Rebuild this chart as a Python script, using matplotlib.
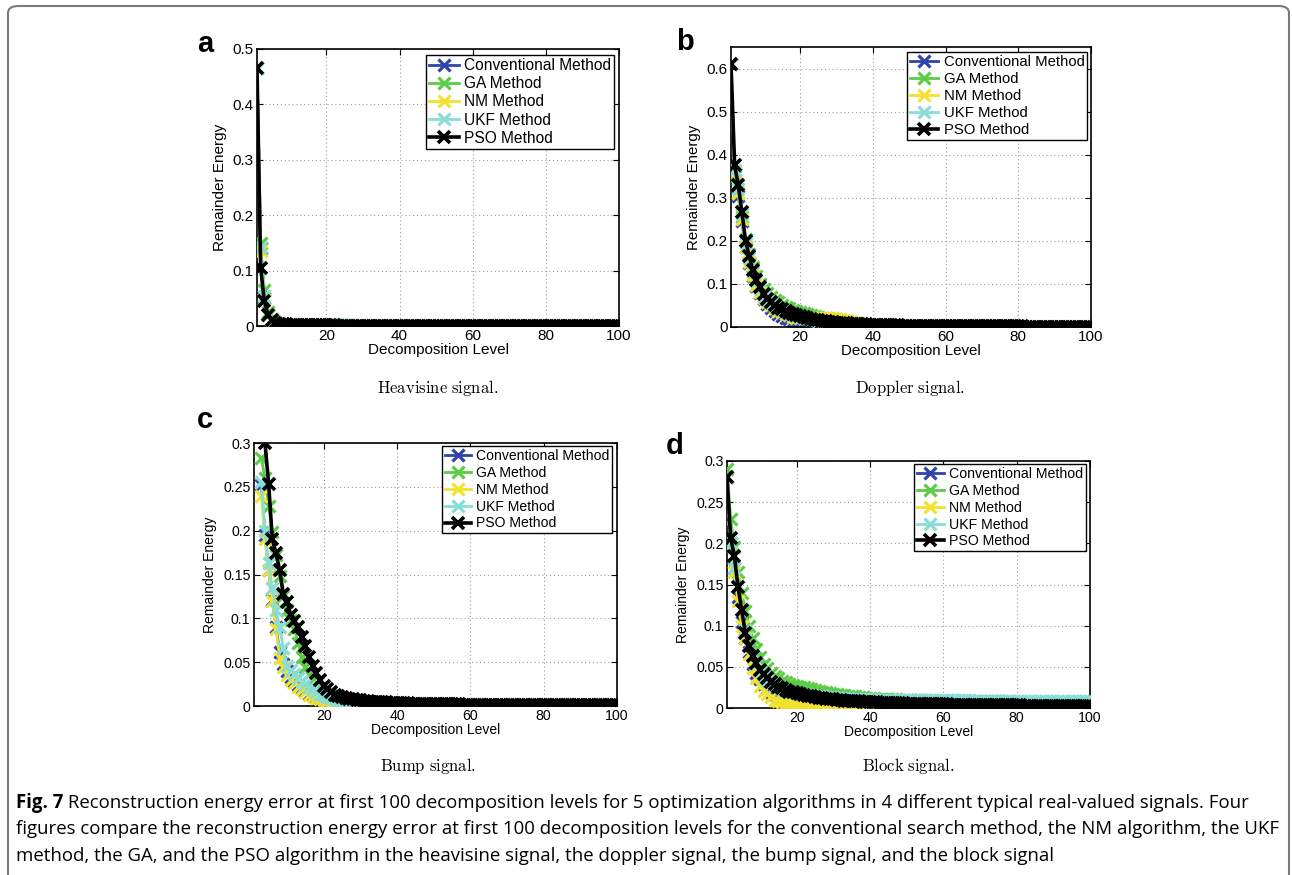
import numpy as np
import matplotlib
matplotlib.use('Agg')
import matplotlib.pyplot as plt
from matplotlib.patches import FancyBboxPatch
from matplotlib import font_manager
from matplotlib.ticker import FormatStrFormatter

NA = np.nan

# ---------------- data ----------------
levels = list(range(1, 101))
methods = ["Conventional Method", "GA Method", "NM Method", "UKF Method", "PSO Method"]
colors = ["#2f43a8", "#5ccb47", "#f2e12e", "#88ddd6", "#000000"]

# (a) Heavisine
conv_a = [
0.465, 0.140, 0.050, 0.020, 0.010, 0.006, 0.004, 0.003, 0.0025, 0.0021,
0.0019, 0.0017, 0.0016, 0.0015, 0.0014, 0.0013, 0.0012, 0.0011, 0.0011, 0.0010,
0.0010, 0.0009, 0.0009, 0.0009, 0.0008, 0.0008, 0.0008, 0.0008, 0.0007, 0.0007,
0.0007, 0.0007, 0.0006, 0.0006, 0.0006, 0.0006, 0.0006, 0.0005, 0.0005, 0.0005,
0.0005, 0.0005, 0.0005, 0.0005, 0.0004, 0.0004, 0.0004, 0.0004, 0.0004, 0.0004,
0.0004, 0.0004, 0.0004, 0.0004, 0.0004, 0.0003, 0.0003, 0.0003, 0.0003, 0.0003,
0.0003, 0.0003, 0.0003, 0.0003, 0.0003, 0.0003, 0.0003, 0.0003, 0.0003, 0.0003,
0.0003, 0.0003, 0.0003, 0.0003, 0.0003, 0.0002, 0.0002, 0.0002, 0.0002, 0.0002,
0.0002, 0.0002, 0.0002, 0.0002, 0.0002, 0.0002, 0.0002, 0.0002, 0.0002, 0.0002,
0.0002, 0.0002, 0.0002, 0.0002, 0.0002, 0.0002, 0.0002, 0.0002, 0.0002, 0.0002]
ga_a = [
0.465, 0.150, 0.065, 0.026, 0.013, 0.008, 0.005, 0.004, 0.003, 0.0026,
0.0023, 0.0021, 0.0019, 0.0018, 0.0017, 0.0016, 0.0015, 0.0014, 0.0013, 0.0013,
0.0012, 0.0012, 0.0011, 0.0011, 0.0010, 0.0010, 0.0010, 0.0009, 0.0009, 0.0009,
0.0009, 0.0008, 0.0008, 0.0008, 0.0008, 0.0008, 0.0007, 0.0007, 0.0007, 0.0007,
0.0007, 0.0007, 0.0006, 0.0006, 0.0006, 0.0006, 0.0006, 0.0006, 0.0006, 0.0006,
0.0005, 0.0005, 0.0005, 0.0005, 0.0005, 0.0005, 0.0005, 0.0005, 0.0005, 0.0005,
0.0005, 0.0005, 0.0004, 0.0004, 0.0004, 0.0004, 0.0004, 0.0004, 0.0004, 0.0004,
0.0004, 0.0004, 0.0004, 0.0004, 0.0004, 0.0004, 0.0004, 0.0004, 0.0004, 0.0004,
0.0003, 0.0003, 0.0003, 0.0003, 0.0003, 0.0003, 0.0003, 0.0003, 0.0003, 0.0003,
0.0003, 0.0003, 0.0003, 0.0003, 0.0003, 0.0003, 0.0003, 0.0003, 0.0003, 0.0003]
nm_a = [
0.465, 0.135, 0.048, 0.019, 0.010, 0.006, 0.004, 0.003, 0.0024, 0.0020,
0.0018, 0.0016, 0.0015, 0.0014, 0.0013, 0.0012, 0.0011, 0.0011, 0.0010, 0.0010,
0.0009, 0.0009, 0.0009, 0.0008, 0.0008, 0.0008, 0.0007, 0.0007, 0.0007, 0.0007,
0.0006, 0.0006, 0.0006, 0.0006, 0.0006, 0.0005, 0.0005, 0.0005, 0.0005, 0.0005,
0.0005, 0.0004, 0.0004, 0.0004, 0.0004, 0.0004, 0.0004, 0.0004, 0.0004, 0.0004,
0.0003, 0.0003, 0.0003, 0.0003, 0.0003, 0.0003, 0.0003, 0.0003, 0.0003, 0.0003,
0.0003, 0.0003, 0.0003, 0.0003, 0.0003, 0.0003, 0.0003, 0.0002, 0.0002, 0.0002,
0.0002, 0.0002, 0.0002, 0.0002, 0.0002, 0.0002, 0.0002, 0.0002, 0.0002, 0.0002,
0.0002, 0.0002, 0.0002, 0.0002, 0.0002, 0.0002, 0.0002, 0.0002, 0.0002, 0.0002,
0.0002, 0.0002, 0.0002, 0.0002, 0.0002, 0.0002, 0.0002, 0.0002, 0.0002, 0.0002]
ukf_a = [
0.465, 0.142, 0.055, 0.022, 0.011, 0.007, 0.0045, 0.0035, 0.0028, 0.0022,
0.0020, 0.0019, 0.0018, 0.0017, 0.0016, 0.0015, 0.0014, 0.0013, 0.0012, 0.0012,
0.0011, 0.0011, 0.0010, 0.0010, 0.0010, 0.0009, 0.0009, 0.0009, 0.0008, 0.0008,
0.0008, 0.0008, 0.0008, 0.0007, 0.0007, 0.0007, 0.0007, 0.0007, 0.0006, 0.0006,
0.0006, 0.0006, 0.0006, 0.0006, 0.0005, 0.0005, 0.0005, 0.0005, 0.0005, 0.0005,
0.0005, 0.0005, 0.0005, 0.0005, 0.0004, 0.0004, 0.0004, 0.0004, 0.0004, 0.0004,
0.0004, 0.0004, 0.0004, 0.0004, 0.0004, 0.0004, 0.0004, 0.0004, 0.0003, 0.0003,
0.0003, 0.0003, 0.0003, 0.0003, 0.0003, 0.0003, 0.0003, 0.0003, 0.0003, 0.0003,
0.0003, 0.0003, 0.0003, 0.0003, 0.0003, 0.0003, 0.0003, 0.0003, 0.0003, 0.0003,
0.0003, 0.0003, 0.0003, 0.0003, 0.0003, 0.0003, 0.0003, 0.0003, 0.0003, 0.0003]
pso_a = [
0.465, 0.105, 0.045, 0.020, 0.010, 0.006, 0.0045, 0.0035, 0.0030, 0.0025,
0.0022, 0.0020, 0.0018, 0.0016, 0.0015, 0.0014, 0.0013, 0.0012, 0.0011, 0.0010,
0.0010, 0.0010, 0.0009, 0.0009, 0.0009, 0.0008, 0.0008, 0.0008, 0.0008, 0.0007,
0.0007, 0.0007, 0.0007, 0.0007, 0.0007, 0.0006, 0.0006, 0.0006, 0.0006, 0.0006,
0.0006, 0.0006, 0.0005, 0.0005, 0.0005, 0.0005, 0.0005, 0.0005, 0.0005, 0.0005,
0.0005, 0.0004, 0.0004, 0.0004, 0.0004, 0.0004, 0.0004, 0.0004, 0.0004, 0.0004,
0.0004, 0.0004, 0.0004, 0.0004, 0.0004, 0.0004, 0.0004, 0.0004, 0.0004, 0.0004,
0.0004, 0.0004, 0.0003, 0.0003, 0.0003, 0.0003, 0.0003, 0.0003, 0.0003, 0.0003,
0.0003, 0.0003, 0.0003, 0.0003, 0.0003, 0.0003, 0.0003, 0.0003, 0.0003, 0.0003,
0.0003, 0.0003, 0.0003, 0.0003, 0.0003, 0.0003, 0.0003, 0.0003, 0.0003, 0.0003]

# (b) Doppler
conv_b = [
0.610, 0.355, 0.305, 0.245, 0.185, 0.148, 0.118, 0.095, 0.078, 0.064,
0.053, 0.044, 0.037, 0.031, 0.026, 0.022, 0.018, 0.015, 0.012, 0.010,
0.0085, 0.0070, 0.0060, 0.0050, 0.0042, 0.0036, 0.0030, 0.0026, 0.0022, 0.0019,
0.0016, 0.0014, 0.0012, 0.0010, 0.0009, 0.0008, 0.0007, 0.0006, 0.0005, 0.0005,
0.0005, 0.0004, 0.0004, 0.0004, 0.0004, 0.0004, 0.0004, 0.0004, 0.0004, 0.0004,
0.0003, 0.0003, 0.0003, 0.0003, 0.0003, 0.0003, 0.0003, 0.0003, 0.0003, 0.0003,
0.0003, 0.0003, 0.0003, 0.0003, 0.0003, 0.0003, 0.0003, 0.0003, 0.0003, 0.0003,
0.0002, 0.0002, 0.0002, 0.0002, 0.0002, 0.0002, 0.0002, 0.0002, 0.0002, 0.0002,
0.0002, 0.0002, 0.0002, 0.0002, 0.0002, 0.0002, 0.0002, 0.0002, 0.0002, 0.0002,
0.0002, 0.0002, 0.0002, 0.0002, 0.0002, 0.0002, 0.0002, 0.0002, 0.0002, 0.0002]
ga_b = [
0.610, 0.350, 0.310, 0.255, 0.205, 0.170, 0.140, 0.118, 0.100, 0.088,
0.078, 0.070, 0.063, 0.057, 0.052, 0.047, 0.043, 0.040, 0.037, 0.034,
0.032, 0.030, 0.028, 0.026, 0.024, 0.022, 0.021, 0.020, 0.019, 0.018,
0.016, 0.015, 0.013, 0.012, 0.010, 0.009, 0.008, 0.007, 0.006, 0.005,
0.0046, 0.0043, 0.0040, 0.0038, 0.0036, 0.0034, 0.0032, 0.0030, 0.0029, 0.0028,
0.0027, 0.0026, 0.0025, 0.0024, 0.0023, 0.0022, 0.0021, 0.0020, 0.0020, 0.0019,
0.0019, 0.0018, 0.0018, 0.0017, 0.0017, 0.0016, 0.0016, 0.0015, 0.0015, 0.0015,
0.0014, 0.0014, 0.0014, 0.0013, 0.0013, 0.0013, 0.0012, 0.0012, 0.0012, 0.0012,
0.0011, 0.0011, 0.0011, 0.0011, 0.0010, 0.0010, 0.0010, 0.0010, 0.0010, 0.0010,
0.0009, 0.0009, 0.0009, 0.0009, 0.0009, 0.0009, 0.0009, 0.0009, 0.0009, 0.0009]
nm_b = [
0.610, 0.360, 0.310, 0.250, 0.185, 0.150, 0.120, 0.098, 0.082, 0.068,
0.058, 0.050, 0.044, 0.038, 0.034, 0.030, 0.027, 0.024, 0.022, 0.021,
0.020, 0.020, 0.021, 0.022, 0.022, 0.022, 0.021, 0.021, 0.020, 0.019,
0.018, 0.016, 0.014, 0.012, 0.010, 0.008, 0.006, 0.005, 0.004, 0.0035,
0.0032, 0.0030, 0.0028, 0.0026, 0.0024, 0.0022, 0.0021, 0.0020, 0.0019, 0.0018,
0.0017, 0.0016, 0.0016, 0.0015, 0.0015, 0.0014, 0.0014, 0.0013, 0.0013, 0.0012,
0.0012, 0.0012, 0.0011, 0.0011, 0.0011, 0.0010, 0.0010, 0.0010, 0.0010, 0.0009,
0.0009, 0.0009, 0.0009, 0.0009, 0.0008, 0.0008, 0.0008, 0.0008, 0.0008, 0.0008,
0.0007, 0.0007, 0.0007, 0.0007, 0.0007, 0.0007, 0.0007, 0.0006, 0.0006, 0.0006,
0.0006, 0.0006, 0.0006, 0.0006, 0.0006, 0.0006, 0.0005, 0.0005, 0.0005, 0.0005]
ukf_b = [
0.610, 0.365, 0.320, 0.262, 0.195, 0.160, 0.128, 0.106, 0.089, 0.073,
0.063, 0.055, 0.048, 0.043, 0.039, 0.035, 0.031, 0.028, 0.026, 0.024,
0.022, 0.020, 0.018, 0.017, 0.015, 0.014, 0.013, 0.012, 0.011, 0.010,
0.0090, 0.0085, 0.0080, 0.0075, 0.0070, 0.0065, 0.0060, 0.0055, 0.0050, 0.0045,
0.0042, 0.0040, 0.0038, 0.0036, 0.0034, 0.0032, 0.0030, 0.0029, 0.0028, 0.0027,
0.0026, 0.0025, 0.0024, 0.0023, 0.0022, 0.0021, 0.0020, 0.0020, 0.0019, 0.0019,
0.0018, 0.0018, 0.0017, 0.0017, 0.0016, 0.0016, 0.0015, 0.0015, 0.0015, 0.0014,
0.0014, 0.0014, 0.0013, 0.0013, 0.0013, 0.0012, 0.0012, 0.0012, 0.0012, 0.0011,
0.0011, 0.0011, 0.0011, 0.0010, 0.0010, 0.0010, 0.0010, 0.0010, 0.0010, 0.0009,
0.0009, 0.0009, 0.0009, 0.0009, 0.0009, 0.0009, 0.0009, 0.0009, 0.0008, 0.0008]
pso_b = [
0.610, 0.375, 0.330, 0.267, 0.200, 0.165, 0.132, 0.110, 0.093, 0.076,
0.066, 0.058, 0.051, 0.045, 0.041, 0.037, 0.033, 0.030, 0.027, 0.025,
0.023, 0.021, 0.019, 0.017, 0.016, 0.014, 0.013, 0.012, 0.011, 0.010,
0.0095, 0.0090, 0.0085, 0.0080, 0.0075, 0.0070, 0.0065, 0.0060, 0.0055, 0.0050,
0.0048, 0.0046, 0.0044, 0.0042, 0.0040, 0.0038, 0.0036, 0.0034, 0.0032, 0.0030,
0.0029, 0.0028, 0.0027, 0.0026, 0.0025, 0.0024, 0.0023, 0.0022, 0.0021, 0.0020,
0.0019, 0.0019, 0.0018, 0.0018, 0.0017, 0.0017, 0.0016, 0.0016, 0.0015, 0.0015,
0.0015, 0.0014, 0.0014, 0.0014, 0.0013, 0.0013, 0.0013, 0.0012, 0.0012, 0.0012,
0.0012, 0.0011, 0.0011, 0.0011, 0.0011, 0.0010, 0.0010, 0.0010, 0.0010, 0.0010,
0.0010, 0.0009, 0.0009, 0.0009, 0.0009, 0.0009, 0.0009, 0.0009, 0.0009, 0.0009]

# (c) Bump  (levels above the plotted range are left empty)
conv_c = [
NA, NA, 0.252, 0.195, 0.155, 0.121, 0.090, 0.062, 0.048, 0.040,
0.033, 0.028, 0.024, 0.020, 0.017, 0.014, 0.012, 0.010, 0.008, 0.007,
0.0060, 0.0050, 0.0042, 0.0036, 0.0030, 0.0026, 0.0022, 0.0019, 0.0016, 0.0014,
0.0012, 0.0011, 0.0010, 0.0009, 0.0008, 0.0008, 0.0007, 0.0007, 0.0006, 0.0006,
0.0006, 0.0005, 0.0005, 0.0005, 0.0005, 0.0005, 0.0004, 0.0004, 0.0004, 0.0004,
0.0004, 0.0004, 0.0004, 0.0004, 0.0003, 0.0003, 0.0003, 0.0003, 0.0003, 0.0003,
0.0003, 0.0003, 0.0003, 0.0003, 0.0003, 0.0003, 0.0003, 0.0003, 0.0003, 0.0003,
0.0002, 0.0002, 0.0002, 0.0002, 0.0002, 0.0002, 0.0002, 0.0002, 0.0002, 0.0002,
0.0002, 0.0002, 0.0002, 0.0002, 0.0002, 0.0002, 0.0002, 0.0002, 0.0002, 0.0002,
0.0002, 0.0002, 0.0002, 0.0002, 0.0002, 0.0002, 0.0002, 0.0002, 0.0002, 0.0002]
ga_c = [
NA, NA, 0.283, 0.260, 0.228, 0.199, 0.172, 0.148, 0.125, 0.109,
0.098, 0.088, 0.072, 0.056, 0.045, 0.036, 0.030, 0.025, 0.020, 0.017,
0.014, 0.012, 0.010, 0.009, 0.008, 0.007, 0.0065, 0.0060, 0.0055, 0.0050,
0.0046, 0.0043, 0.0040, 0.0037, 0.0034, 0.0032, 0.0030, 0.0028, 0.0026, 0.0025,
0.0024, 0.0023, 0.0022, 0.0021, 0.0020, 0.0019, 0.0018, 0.0018, 0.0017, 0.0017,
0.0016, 0.0016, 0.0015, 0.0015, 0.0014, 0.0014, 0.0014, 0.0013, 0.0013, 0.0013,
0.0012, 0.0012, 0.0012, 0.0012, 0.0011, 0.0011, 0.0011, 0.0011, 0.0010, 0.0010,
0.0010, 0.0010, 0.0010, 0.0009, 0.0009, 0.0009, 0.0009, 0.0009, 0.0009, 0.0008,
0.0008, 0.0008, 0.0008, 0.0008, 0.0008, 0.0008, 0.0007, 0.0007, 0.0007, 0.0007,
0.0007, 0.0007, 0.0007, 0.0007, 0.0007, 0.0006, 0.0006, 0.0006, 0.0006, 0.0006]
nm_c = [
NA, NA, 0.240, 0.190, 0.155, 0.120, 0.088, 0.055, 0.044, 0.035,
0.030, 0.026, 0.022, 0.019, 0.016, 0.013, 0.011, 0.009, 0.0075, 0.0065,
0.0055, 0.0047, 0.0040, 0.0034, 0.0029, 0.0025, 0.0021, 0.0018, 0.0015, 0.0013,
0.0011, 0.0010, 0.0009, 0.0008, 0.0007, 0.0007, 0.0006, 0.0006, 0.0005, 0.0005,
0.0005, 0.0004, 0.0004, 0.0004, 0.0004, 0.0004, 0.0003, 0.0003, 0.0003, 0.0003,
0.0003, 0.0003, 0.0003, 0.0003, 0.0003, 0.0003, 0.0002, 0.0002, 0.0002, 0.0002,
0.0002, 0.0002, 0.0002, 0.0002, 0.0002, 0.0002, 0.0002, 0.0002, 0.0002, 0.0002,
0.0002, 0.0002, 0.0002, 0.0002, 0.0002, 0.0002, 0.0002, 0.0002, 0.0002, 0.0002,
0.0001, 0.0001, 0.0001, 0.0001, 0.0001, 0.0001, 0.0001, 0.0001, 0.0001, 0.0001,
0.0001, 0.0001, 0.0001, 0.0001, 0.0001, 0.0001, 0.0001, 0.0001, 0.0001, 0.0001]
ukf_c = [
NA, NA, 0.256, 0.200, 0.163, 0.135, 0.110, 0.090, 0.066, 0.046,
0.041, 0.036, 0.032, 0.028, 0.025, 0.022, 0.019, 0.016, 0.014, 0.012,
0.010, 0.009, 0.008, 0.007, 0.006, 0.0052, 0.0046, 0.0040, 0.0035, 0.0030,
0.0027, 0.0024, 0.0022, 0.0020, 0.0018, 0.0017, 0.0016, 0.0015, 0.0014, 0.0013,
0.0012, 0.0012, 0.0011, 0.0011, 0.0010, 0.0010, 0.0009, 0.0009, 0.0009, 0.0008,
0.0008, 0.0008, 0.0008, 0.0007, 0.0007, 0.0007, 0.0007, 0.0007, 0.0006, 0.0006,
0.0006, 0.0006, 0.0006, 0.0006, 0.0005, 0.0005, 0.0005, 0.0005, 0.0005, 0.0005,
0.0005, 0.0005, 0.0004, 0.0004, 0.0004, 0.0004, 0.0004, 0.0004, 0.0004, 0.0004,
0.0004, 0.0004, 0.0004, 0.0004, 0.0003, 0.0003, 0.0003, 0.0003, 0.0003, 0.0003,
0.0003, 0.0003, 0.0003, 0.0003, 0.0003, 0.0003, 0.0003, 0.0003, 0.0003, 0.0003]
pso_c = [
NA, NA, NA, 0.300, 0.253, 0.190, 0.174, 0.155, 0.128, 0.119,
0.104, 0.097, 0.090, 0.079, 0.068, 0.056, 0.046, 0.038, 0.030, 0.023,
0.019, 0.016, 0.013, 0.011, 0.010, 0.009, 0.0080, 0.0075, 0.0070, 0.0065,
0.0060, 0.0055, 0.0050, 0.0048, 0.0045, 0.0042, 0.0040, 0.0038, 0.0036, 0.0034,
0.0032, 0.0030, 0.0029, 0.0028, 0.0027, 0.0026, 0.0025, 0.0024, 0.0023, 0.0022,
0.0021, 0.0020, 0.0020, 0.0019, 0.0019, 0.0018, 0.0018, 0.0017, 0.0017, 0.0016,
0.0016, 0.0015, 0.0015, 0.0015, 0.0014, 0.0014, 0.0014, 0.0013, 0.0013, 0.0013,
0.0012, 0.0012, 0.0012, 0.0012, 0.0011, 0.0011, 0.0011, 0.0011, 0.0011, 0.0010,
0.0010, 0.0010, 0.0010, 0.0010, 0.0010, 0.0009, 0.0009, 0.0009, 0.0009, 0.0009,
0.0009, 0.0009, 0.0008, 0.0008, 0.0008, 0.0008, 0.0008, 0.0008, 0.0008, 0.0008]

# (d) Block
conv_d = [
0.280, 0.200, 0.170, 0.135, 0.105, 0.085, 0.068, 0.054, 0.043, 0.035,
0.029, 0.024, 0.020, 0.017, 0.014, 0.012, 0.010, 0.0088, 0.0078, 0.0070,
0.0063, 0.0057, 0.0052, 0.0047, 0.0043, 0.0039, 0.0036, 0.0033, 0.0030, 0.0028,
0.0026, 0.0025, 0.0024, 0.0023, 0.0022, 0.0021, 0.0020, 0.0020, 0.0019, 0.0019,
0.0018, 0.0018, 0.0017, 0.0017, 0.0016, 0.0016, 0.0016, 0.0015, 0.0015, 0.0015,
0.0014, 0.0014, 0.0014, 0.0014, 0.0013, 0.0013, 0.0013, 0.0013, 0.0012, 0.0012,
0.0012, 0.0012, 0.0012, 0.0011, 0.0011, 0.0011, 0.0011, 0.0011, 0.0011, 0.0010,
0.0010, 0.0010, 0.0010, 0.0010, 0.0010, 0.0010, 0.0009, 0.0009, 0.0009, 0.0009,
0.0009, 0.0009, 0.0009, 0.0009, 0.0009, 0.0008, 0.0008, 0.0008, 0.0008, 0.0008,
0.0008, 0.0008, 0.0008, 0.0008, 0.0008, 0.0008, 0.0008, 0.0008, 0.0008, 0.0008]
ga_d = [
0.290, 0.230, 0.195, 0.165, 0.140, 0.118, 0.100, 0.085, 0.072, 0.062,
0.054, 0.048, 0.043, 0.039, 0.036, 0.033, 0.031, 0.029, 0.028, 0.027,
0.026, 0.025, 0.024, 0.023, 0.022, 0.021, 0.020, 0.019, 0.018, 0.017,
0.0165, 0.0160, 0.0155, 0.0150, 0.0145, 0.0140, 0.0135, 0.0130, 0.0125, 0.0120,
0.0118, 0.0115, 0.0112, 0.0110, 0.0108, 0.0106, 0.0104, 0.0102, 0.0100, 0.0098,
0.0096, 0.0095, 0.0094, 0.0093, 0.0092, 0.0091, 0.0090, 0.0089, 0.0088, 0.0087,
0.0086, 0.0086, 0.0085, 0.0085, 0.0084, 0.0084, 0.0083, 0.0083, 0.0082, 0.0082,
0.0081, 0.0081, 0.0080, 0.0080, 0.0080, 0.0079, 0.0079, 0.0079, 0.0078, 0.0078,
0.0078, 0.0077, 0.0077, 0.0077, 0.0077, 0.0076, 0.0076, 0.0076, 0.0076, 0.0076,
0.0075, 0.0075, 0.0075, 0.0075, 0.0075, 0.0075, 0.0074, 0.0074, 0.0074, 0.0074]
nm_d = [
0.280, 0.200, 0.165, 0.130, 0.100, 0.085, 0.065, 0.048, 0.036, 0.027,
0.021, 0.017, 0.013, 0.010, 0.008, 0.0068, 0.0060, 0.0053, 0.0047, 0.0042,
0.0038, 0.0034, 0.0030, 0.0027, 0.0024, 0.0021, 0.0019, 0.0017, 0.0015, 0.0013,
0.0012, 0.0011, 0.0010, 0.0009, 0.0009, 0.0008, 0.0008, 0.0007, 0.0007, 0.0007,
0.0006, 0.0006, 0.0006, 0.0006, 0.0005, 0.0005, 0.0005, 0.0005, 0.0005, 0.0004,
0.0004, 0.0004, 0.0004, 0.0004, 0.0004, 0.0004, 0.0003, 0.0003, 0.0003, 0.0003,
0.0003, 0.0003, 0.0003, 0.0003, 0.0003, 0.0003, 0.0003, 0.0003, 0.0003, 0.0003,
0.0002, 0.0002, 0.0002, 0.0002, 0.0002, 0.0002, 0.0002, 0.0002, 0.0002, 0.0002,
0.0002, 0.0002, 0.0002, 0.0002, 0.0002, 0.0002, 0.0002, 0.0002, 0.0002, 0.0002,
0.0002, 0.0002, 0.0002, 0.0002, 0.0002, 0.0002, 0.0002, 0.0002, 0.0002, 0.0002]
ukf_d = [
0.280, 0.200, 0.170, 0.148, 0.120, 0.095, 0.076, 0.063, 0.053, 0.045,
0.039, 0.034, 0.030, 0.027, 0.025, 0.023, 0.021, 0.020, 0.019, 0.018,
0.0170, 0.0165, 0.0160, 0.0155, 0.0150, 0.0145, 0.0140, 0.0135, 0.0130, 0.0128,
0.0125, 0.0122, 0.0120, 0.0118, 0.0115, 0.0112, 0.0110, 0.0108, 0.0106, 0.0105,
0.0104, 0.0103, 0.0102, 0.0101, 0.0100, 0.0100, 0.0099, 0.0099, 0.0098, 0.0098,
0.0097, 0.0097, 0.0096, 0.0096, 0.0095, 0.0095, 0.0095, 0.0094, 0.0094, 0.0094,
0.0093, 0.0093, 0.0093, 0.0092, 0.0092, 0.0092, 0.0092, 0.0091, 0.0091, 0.0091,
0.0091, 0.0090, 0.0090, 0.0090, 0.0090, 0.0090, 0.0089, 0.0089, 0.0089, 0.0089,
0.0089, 0.0089, 0.0088, 0.0088, 0.0088, 0.0088, 0.0088, 0.0088, 0.0088, 0.0087,
0.0087, 0.0087, 0.0087, 0.0087, 0.0087, 0.0087, 0.0087, 0.0086, 0.0086, 0.0086]
pso_d = [
0.281, 0.206, 0.185, 0.147, 0.119, 0.091, 0.075, 0.063, 0.055, 0.046,
0.041, 0.036, 0.032, 0.029, 0.026, 0.024, 0.022, 0.020, 0.019, 0.018,
0.0170, 0.0160, 0.0150, 0.0140, 0.0130, 0.0125, 0.0120, 0.0115, 0.0110, 0.0105,
0.0100, 0.0095, 0.0090, 0.0088, 0.0085, 0.0082, 0.0080, 0.0077, 0.0075, 0.0072,
0.0070, 0.0068, 0.0066, 0.0064, 0.0062, 0.0060, 0.0058, 0.0056, 0.0055, 0.0054,
0.0053, 0.0052, 0.0051, 0.0050, 0.0049, 0.0048, 0.0047, 0.0046, 0.0045, 0.0044,
0.0043, 0.0042, 0.0041, 0.0040, 0.0040, 0.0039, 0.0038, 0.0038, 0.0037, 0.0036,
0.0036, 0.0035, 0.0035, 0.0034, 0.0034, 0.0033, 0.0033, 0.0032, 0.0032, 0.0031,
0.0031, 0.0030, 0.0030, 0.0030, 0.0029, 0.0029, 0.0028, 0.0028, 0.0028, 0.0027,
0.0027, 0.0027, 0.0026, 0.0026, 0.0026, 0.0025, 0.0025, 0.0025, 0.0024, 0.0024]

panel_letters = ["a", "b", "c", "d"]
subcaptions = ["Heavisine signal.", "Doppler signal.", "Bump signal.", "Block signal."]
y_maxes = [0.5, 0.65, 0.3, 0.3]
y_ticks = [[0, 0.1, 0.2, 0.3, 0.4, 0.5],
           [0, 0.1, 0.2, 0.3, 0.4, 0.5, 0.6],
           [0, 0.05, 0.1, 0.15, 0.2, 0.25, 0.3],
           [0, 0.05, 0.1, 0.15, 0.2, 0.25, 0.3]]
x_ticks = [20, 40, 60, 80, 100]
x_label = "Decomposition Level"
y_label = "Remainder Energy"
caption_lines = [
    [("Fig. 7", "bold"), (" Reconstruction energy error at first 100 decomposition levels for 5 optimization algorithms in 4 different typical real-valued signals. Four", "normal")],
    [("figures compare the reconstruction energy error at first 100 decomposition levels for the conventional search method, the NM algorithm, the UKF", "normal")],
    [("method, the GA, and the PSO algorithm in the heavisine signal, the doppler signal, the bump signal, and the block signal", "normal")],
]

series = [
    [conv_a, ga_a, nm_a, ukf_a, pso_a],
    [conv_b, ga_b, nm_b, ukf_b, pso_b],
    [conv_c, ga_c, nm_c, ukf_c, pso_c],
    [conv_d, ga_d, nm_d, ukf_d, pso_d],
]

# ---------------- layout ----------------
W, H = 1292, 875
plt.rcParams['font.family'] = ['Liberation Sans', 'DejaVu Sans']
plt.rcParams['mathtext.fontset'] = 'cm'
fig = plt.figure(figsize=(W / 100, H / 100), dpi=100)

def fx(px):
    return px / W

def fy(py):
    return 1 - py / H

# outer frame
frame = FancyBboxPatch((fx(8), fy(900)), fx(1289) - fx(8), fy(6) - fy(900),
                       boxstyle="round,pad=0,rounding_size=0.008",
                       transform=fig.transFigure, facecolor='none',
                       edgecolor='#7a7a7a', linewidth=1.5, clip_on=False)
fig.patches.append(frame)

rects = [(257, 49, 619, 326), (731, 47, 1091, 327), (254, 443, 617, 706), (727, 461, 1090, 708)]
leg_anchor = [(0.987, 0.978), (0.990, 0.982), (0.987, 0.987), (0.988, 0.987)]
leg_fs = [11.2, 10.7, 10.1, 10.2]
tick_fs = [11.0, 11.0, 10.2, 10.2]
lab_fs = [11.0, 10.8, 10.0, 10.0]
letter_pos = [(205, 44), (685, 42), (205, 420), (675, 446)]
sub_pos = [(438, 388), (910, 388), (428, 766), (908, 766)]

for i in range(4):
    l, t, r, b = rects[i]
    ax = fig.add_axes([fx(l), fy(b), fx(r) - fx(l), fy(t) - fy(b)])
    for j in range(5):
        y = np.array(series[i][j], dtype=float)
        lw = 2.6 if j == 4 else 2.0
        ax.plot(levels, y, color=colors[j], lw=lw, marker='x', markersize=8.5,
                markeredgewidth=2.6 if j == 4 else 2.3, label=methods[j], zorder=2 + j)
    ax.set_xlim(1, 100)
    ax.set_ylim(0, y_maxes[i])
    ax.set_xticks(x_ticks)
    ax.set_yticks(y_ticks[i])
    ax.yaxis.set_major_formatter(FormatStrFormatter('%g'))
    ax.grid(True, linestyle=(0, (1, 2.5)), color='#9a9a9a', linewidth=0.8)
    ax.tick_params(direction='in', top=True, right=True, length=4, width=0.8,
                   labelsize=tick_fs[i], pad=2.5)
    for s in ax.spines.values():
        s.set_linewidth(1.2)
    ax.set_xlabel(x_label, fontsize=lab_fs[i], labelpad=0)
    ax.set_ylabel(y_label, fontsize=lab_fs[i], labelpad=4)
    leg = ax.legend(loc='upper right', bbox_to_anchor=leg_anchor[i], fontsize=leg_fs[i],
                    frameon=True, fancybox=False, framealpha=1, edgecolor='black',
                    borderpad=0.2, labelspacing=0.2, handlelength=1.9,
                    handletextpad=0.35, borderaxespad=0, numpoints=1)
    leg.get_frame().set_linewidth(1.0)
    leg.set_zorder(20)
    fig.text(fx(letter_pos[i][0]), fy(letter_pos[i][1]), panel_letters[i],
             fontsize=21, fontweight='bold', ha='center', va='center')
    fig.text(fx(sub_pos[i][0]), fy(sub_pos[i][1]),
             r'$\mathrm{' + subcaptions[i].replace(' ', r'\ ') + '}$',
             fontsize=12, ha='center', va='center')

# ---------------- caption ----------------
names = {f.name for f in font_manager.fontManager.ttflist}
cap_family = 'Liberation Sans Narrow' if 'Liberation Sans Narrow' in names else 'Open Sans'
renderer = fig.canvas.get_renderer()
cap_y = [803, 829, 856]
target_w = [1262 - 16, 1276 - 16]

def draw_line(parts, y, size):
    x = 16
    objs = []
    for txt, wt in parts:
        o = fig.text(fx(x), fy(y), txt, fontsize=size, fontweight=wt,
                     family=[cap_family, 'DejaVu Sans'], ha='left', va='center')
        bb = o.get_window_extent(renderer)
        x += bb.width
        objs.append(o)
    return objs, x - 16

size = 20.0
for k in range(2):
    objs, wdt = draw_line(caption_lines[k], cap_y[k], 12)
    size = min(size, 12 * target_w[k] / wdt)
    for o in objs:
        o.remove()
for k, parts in enumerate(caption_lines):
    draw_line(parts, cap_y[k], size)

fig.savefig('out.png', dpi=100)
